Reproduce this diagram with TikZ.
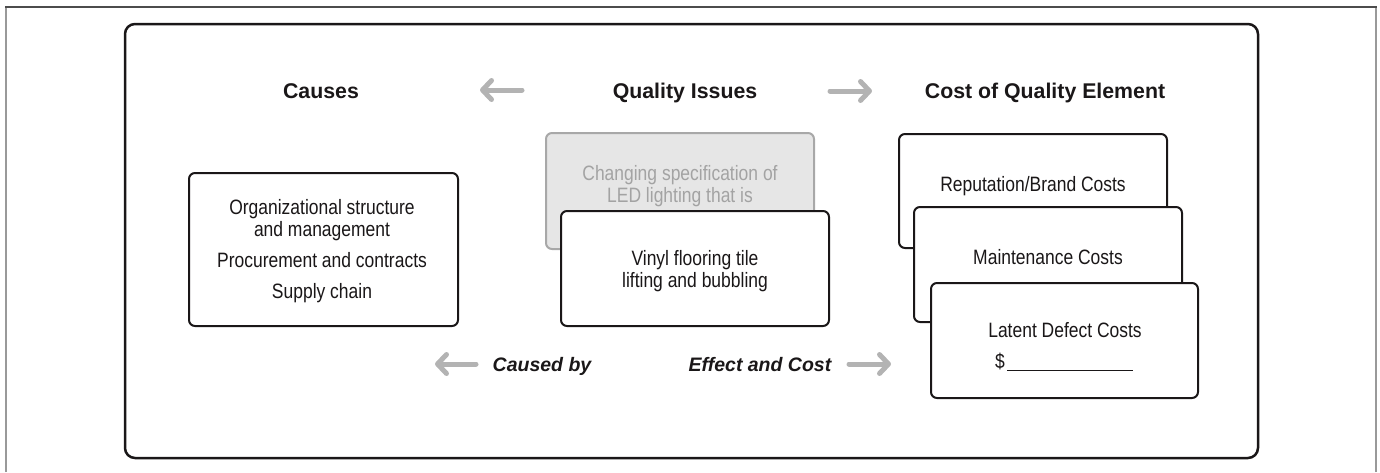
\documentclass[tikz,border=0pt]{standalone}
\usepackage{fontspec}
\setmainfont{Liberation Sans}
\newfontfamily\condf[FakeStretch=0.84]{Liberation Sans}
\newfontfamily\headf{Liberation Sans Bold}
\newfontfamily\itf{Liberation Sans Bold Italic}
\usetikzlibrary{arrows.meta}
\definecolor{textc}{HTML}{1A1718}
\definecolor{arrowc}{HTML}{B3B3B3}
\definecolor{grayfill}{HTML}{E6E6E6}
\definecolor{grayline}{HTML}{A8A8A8}
\definecolor{graytext}{HTML}{A3A3A3}
\definecolor{framec}{HTML}{999999}
\tikzset{
  cardbox/.style={draw=textc, line width=2pt, rounded corners=6pt, fill=white, inner sep=0pt},
  ghostbox/.style={draw=grayline, line width=2pt, rounded corners=6pt, fill=grayfill, inner sep=0pt},
  headtxt/.style={anchor=base, inner sep=0pt, text=textc, font=\headf\fontsize{21.3}{24}\selectfont},
  bodytxt/.style={anchor=base, inner sep=0pt, text=textc, font=\condf\fontsize{20.8}{22}\selectfont},
  ghosttxt/.style={anchor=base, inner sep=0pt, text=graytext, font=\condf\fontsize{20.8}{22}\selectfont},
  itxt/.style={anchor=base, inner sep=0pt, text=textc, font=\itf\fontsize{19.5}{22}\selectfont},
  greyarrow/.style={draw=arrowc, line width=5pt, line cap=round, -{Straight Barb[length=9pt,width=19pt,round]}},
}
\begin{document}
\begin{tikzpicture}[x=1pt,y=-1pt]
\useasboundingbox (0,0) rectangle (1380,472);
% outer page frame
\draw[framec, line width=1.5pt] (6,472) -- (6,7);
\draw[framec, line width=1.5pt] (1376,472) -- (1376,7);
\draw[black!70, line width=1.5pt] (5.25,7) -- (1376.75,7);
% main rounded panel
\node[draw=textc, line width=2.5pt, rounded corners=10pt, minimum width=1133pt, minimum height=434pt, inner sep=0pt] (panel) at (691.5,241) {};

% headers
\node[headtxt] (hcauses) at (321,98) {Causes};
\node[headtxt] (hissues) at (685,98) {Quality Issues};
\node[headtxt] (hcost) at (1045,98) {Cost of Quality Element};
\coordinate (ha1s) at (522,90);
\coordinate (ha1e) at (480,90);
\coordinate (ha2s) at (830,91);
\coordinate (ha2e) at (872,91);
\draw[greyarrow] (ha1s) -- (ha1e);
\draw[greyarrow] (ha2s) -- (ha2e);

% causes box
\node[cardbox, minimum width=269pt, minimum height=153pt] (causes) at (323.5,249.5) {};
\node[bodytxt] (c1) at (322,214) {Organizational structure};
\node[bodytxt] (c2) at (322,236) {and management};
\node[bodytxt] (c3) at (322,267) {Procurement and contracts};
\node[bodytxt] (c4) at (322,298) {Supply chain};

% quality issues
\node[ghostbox, minimum width=268pt, minimum height=116pt] (ghost) at (680,191) {};
\node[ghosttxt] (g1) at (680,180) {Changing specification of};
\node[ghosttxt] (g2) at (680,202) {LED lighting that is};
\node[cardbox, minimum width=268pt, minimum height=115pt] (vinyl) at (695,268.5) {};
\node[bodytxt] (v1) at (695,265) {Vinyl flooring tile};
\node[bodytxt] (v2) at (695,287) {lifting and bubbling};

% cost boxes
\node[cardbox, minimum width=268pt, minimum height=114pt] (rep) at (1033,191) {};
\node[bodytxt] (reptxt) at (1033,191) {Reputation/Brand Costs};
\node[cardbox, minimum width=268pt, minimum height=115pt] (maint) at (1048,264.5) {};
\node[bodytxt] (mainttxt) at (1048,264) {Maintenance Costs};
\node[cardbox, minimum width=267pt, minimum height=115pt] (latent) at (1064.5,340.5) {};
\node[bodytxt] (latenttxt) at (1065,337) {Latent Defect Costs};
\node[bodytxt, anchor=base west] (dollar) at (995,368) {\$};
\coordinate (ulA) at (1007,370.5);
\coordinate (ulB) at (1133,370.5);
\draw[textc, line width=1pt] (ulA) -- (ulB);

% bottom labels
\node[itxt] (causedby) at (542,371) {Caused by};
\node[itxt] (effect) at (760,371) {Effect and Cost};
\coordinate (ba1s) at (476,364);
\coordinate (ba1e) at (435,364);
\coordinate (ba2s) at (849,364);
\coordinate (ba2e) at (891,364);
\draw[greyarrow] (ba1s) -- (ba1e);
\draw[greyarrow] (ba2s) -- (ba2e);
\end{tikzpicture}
\end{document}
